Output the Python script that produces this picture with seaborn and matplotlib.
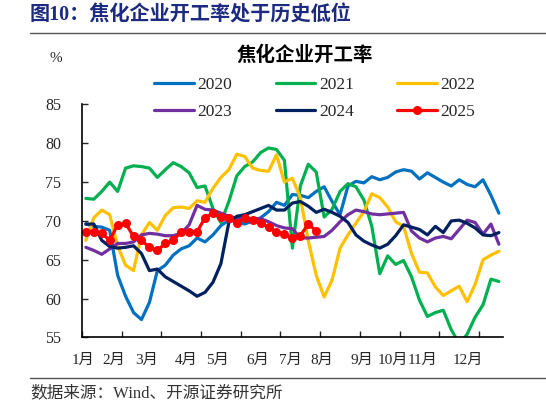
import numpy as np
import pandas as pd
import matplotlib
matplotlib.use('Agg')
import matplotlib.pyplot as plt
import seaborn as sns
from matplotlib.lines import Line2D

sns.set_style('ticks')
plt.rcParams['font.family'] = ['Liberation Serif', 'Noto Sans CJK SC', 'DejaVu Sans']

# weekly coking plant operating rate, %
y2020 = [69.6, 69.3, 69.2, 68.8, 63.0, 60.3, 58.2, 57.3, 59.5, 63.6, 64.3, 65.6, 66.4, 66.8,
         67.8, 67.3, 68.2, 69.4, 70.1, 69.9, 69.6, 70.0, 70.4, 71.2, 72.4, 72.0, 73.4, 73.3,
         73.0, 73.8, 74.4, 72.5, 70.8, 74.5, 75.1, 74.9, 75.7, 75.3, 75.6, 76.3, 76.6, 76.4,
         75.4, 76.2, 75.6, 75.0, 74.5, 75.3, 74.7, 74.4, 75.3, 73.3, 71.0]
y2021 = [72.9, 72.8, 73.8, 75.0, 73.8, 76.8, 77.1, 77.0, 76.8, 75.6, 76.6, 77.5, 77.0, 76.2,
         74.3, 74.5, 71.6, 69.8, 72.5, 75.8, 77.0, 77.6, 78.8, 79.4, 79.2, 77.8, 66.5, 74.5,
         77.3, 76.3, 70.5, 71.5, 73.8, 74.8, 74.4, 72.7, 69.3, 63.2, 65.5, 64.4, 64.9, 62.8,
         59.8, 57.7, 58.2, 58.5, 56.0, 54.2, 55.4, 57.6, 59.2, 62.5, 62.2]
y2022 = [67.5, 70.4, 71.4, 70.8, 66.8, 64.3, 63.6, 68.2, 69.8, 68.8, 70.7, 71.7, 71.8, 71.6,
         72.6, 72.4, 74.2, 75.6, 76.6, 78.6, 78.3, 76.8, 76.5, 76.4, 78.5, 75.0, 75.5, 73.0,
         67.5, 63.0, 60.2, 62.4, 66.5, 68.2, 69.7, 71.2, 73.5, 73.0, 71.8, 69.9, 69.3, 65.8,
         63.4, 63.3, 61.5, 60.4, 61.0, 61.6, 59.6, 61.8, 65.0, 65.6, 66.1]
y2023 = [66.6, 66.2, 65.7, 66.4, 67.1, 67.1, 67.3, 68.2, 68.4, 68.3, 68.1, 68.1, 68.4, 69.5,
         72.0, 71.5, 71.4, 71.0, 70.6, 70.3, 70.3, 70.3, 70.3, 69.9, 69.4, 69.1, 69.0, 67.8,
         67.8, 67.9, 68.0, 68.8, 69.9, 70.8, 71.4, 71.2, 70.9, 70.8, 70.9, 71.0, 71.1, 68.7,
         67.8, 67.3, 67.8, 68.0, 67.7, 68.9, 70.1, 69.8, 68.3, 69.6, 67.0]
y2024 = [69.6, 69.6, 67.5, 66.7, 66.5, 66.6, 66.8, 65.8, 63.6, 63.8, 62.8, 62.2, 61.6, 61.0,
         60.3, 60.8, 62.1, 64.5, 69.8, 70.6, 70.8, 71.2, 71.6, 72.0, 71.4, 71.4, 72.3, 72.5,
         71.9, 71.1, 71.5, 71.1, 70.6, 69.8, 68.2, 67.4, 66.9, 66.5, 67.0, 68.1, 69.5, 69.2,
         68.9, 68.2, 69.3, 68.5, 70.0, 70.1, 69.7, 69.1, 68.2, 68.1, 68.5]
y2025 = [68.6, 68.6, 68.4, 67.5, 69.5, 69.7, 68.0, 67.5, 66.6, 66.2, 67.1, 67.5, 68.6, 68.6,
         68.6, 70.4, 71.0, 70.5, 70.4, 69.7, 70.4, 70.1, 69.7, 69.2, 68.6, 68.3, 67.8, 68.1,
         69.6, 68.7]

years = ['2020', '2021', '2022', '2023', '2024', '2025']
series = [y2020, y2021, y2022, y2023, y2024, y2025]
colors = ['#0070C0', '#00B050', '#FFC000', '#7030A0', '#002060', '#FF0000']

month_labels = ['1月', '2月', '3月', '4月', '5月', '6月', '7月', '8月', '9月', '10月', '11月', '12月']
month_pos = [-0.4, 3.5, 7.7, 12.6, 16.6, 21.7, 25.7, 29.7, 34.8, 38.7, 42.4, 48.1]

rows = []
for yr, vals in zip(years, series):
    for i, v in enumerate(vals):
        rows.append((yr, i, v))
df = pd.DataFrame(rows, columns=['year', 'week', 'rate'])

fig = plt.figure(figsize=(5.46, 4.08), dpi=100)
ax = fig.add_axes([0.150, 0.173, 0.771, 0.571])

for yr, c in zip(years, colors):
    d = df[df['year'] == yr]
    if yr == '2025':
        sns.lineplot(data=d, x='week', y='rate', color=c, lw=2.3, marker='o',
                     markersize=6.5, markeredgewidth=0, ax=ax, label=yr, legend=False)
    else:
        sns.lineplot(data=d, x='week', y='rate', color=c, lw=2.3, ax=ax, label=yr, legend=False)

ax.set_xlim(-0.5, 52.5)
ax.set_ylim(55, 85)
ax.set_yticks(np.arange(55, 86, 5))
ax.set_xticks(np.arange(-0.5, 52, 5))
ax.set_xticklabels([])
ax.set_xticks(month_pos, minor=True)
ax.set_xticklabels(month_labels, minor=True, fontsize=11)
ax.tick_params(axis='x', which='major', direction='in', length=4, width=1)
ax.tick_params(axis='x', which='minor', length=0, pad=12)
ax.tick_params(axis='y', direction='in', length=4, width=1, pad=15, labelsize=11.5)
ax.set_xlabel('')
ax.set_ylabel('')
for s in ['top', 'right']:
    ax.spines[s].set_visible(False)
for s in ['left', 'bottom']:
    ax.spines[s].set_color('black')
    ax.spines[s].set_linewidth(1.2)

# legend: row-wise order in three columns
h = ax.get_lines()
order = [0, 3, 1, 4, 2, 5]
fig.legend([h[k] for k in order], [years[k] for k in order], ncol=3, frameon=False,
           loc='upper left', bbox_to_anchor=(154 / 546, 1 - 77 / 408),
           fontsize=12.5, handlelength=2.3, handletextpad=0.2, columnspacing=2.5,
           labelspacing=0.6, borderpad=0, borderaxespad=0)

fig.text(30 / 546, 1 - 15 / 408, '图10：焦化企业开工率处于历史低位', color='#1C2A80',
         fontsize=14.5, fontweight='bold', ha='left', va='center')
fig.add_artist(Line2D([30 / 546, 1], [1 - 33 / 408] * 2, color='#555555', lw=1))
fig.text(305 / 546, 1 - 55 / 408, '焦化企业开工率', fontsize=14, fontweight='bold',
         ha='center', va='center', color='black')
fig.text(56 / 546, 1 - 58 / 408, '%', fontsize=11, ha='center', va='center')
fig.add_artist(Line2D([30 / 546, 1], [1 - 378 / 408] * 2, color='#555555', lw=1))
fig.text(30 / 546, 1 - 393 / 408, '数据来源：Wind、开源证券研究所', fontsize=12,
         ha='left', va='center', color='#333333')

fig.savefig('out.png', dpi=100)
